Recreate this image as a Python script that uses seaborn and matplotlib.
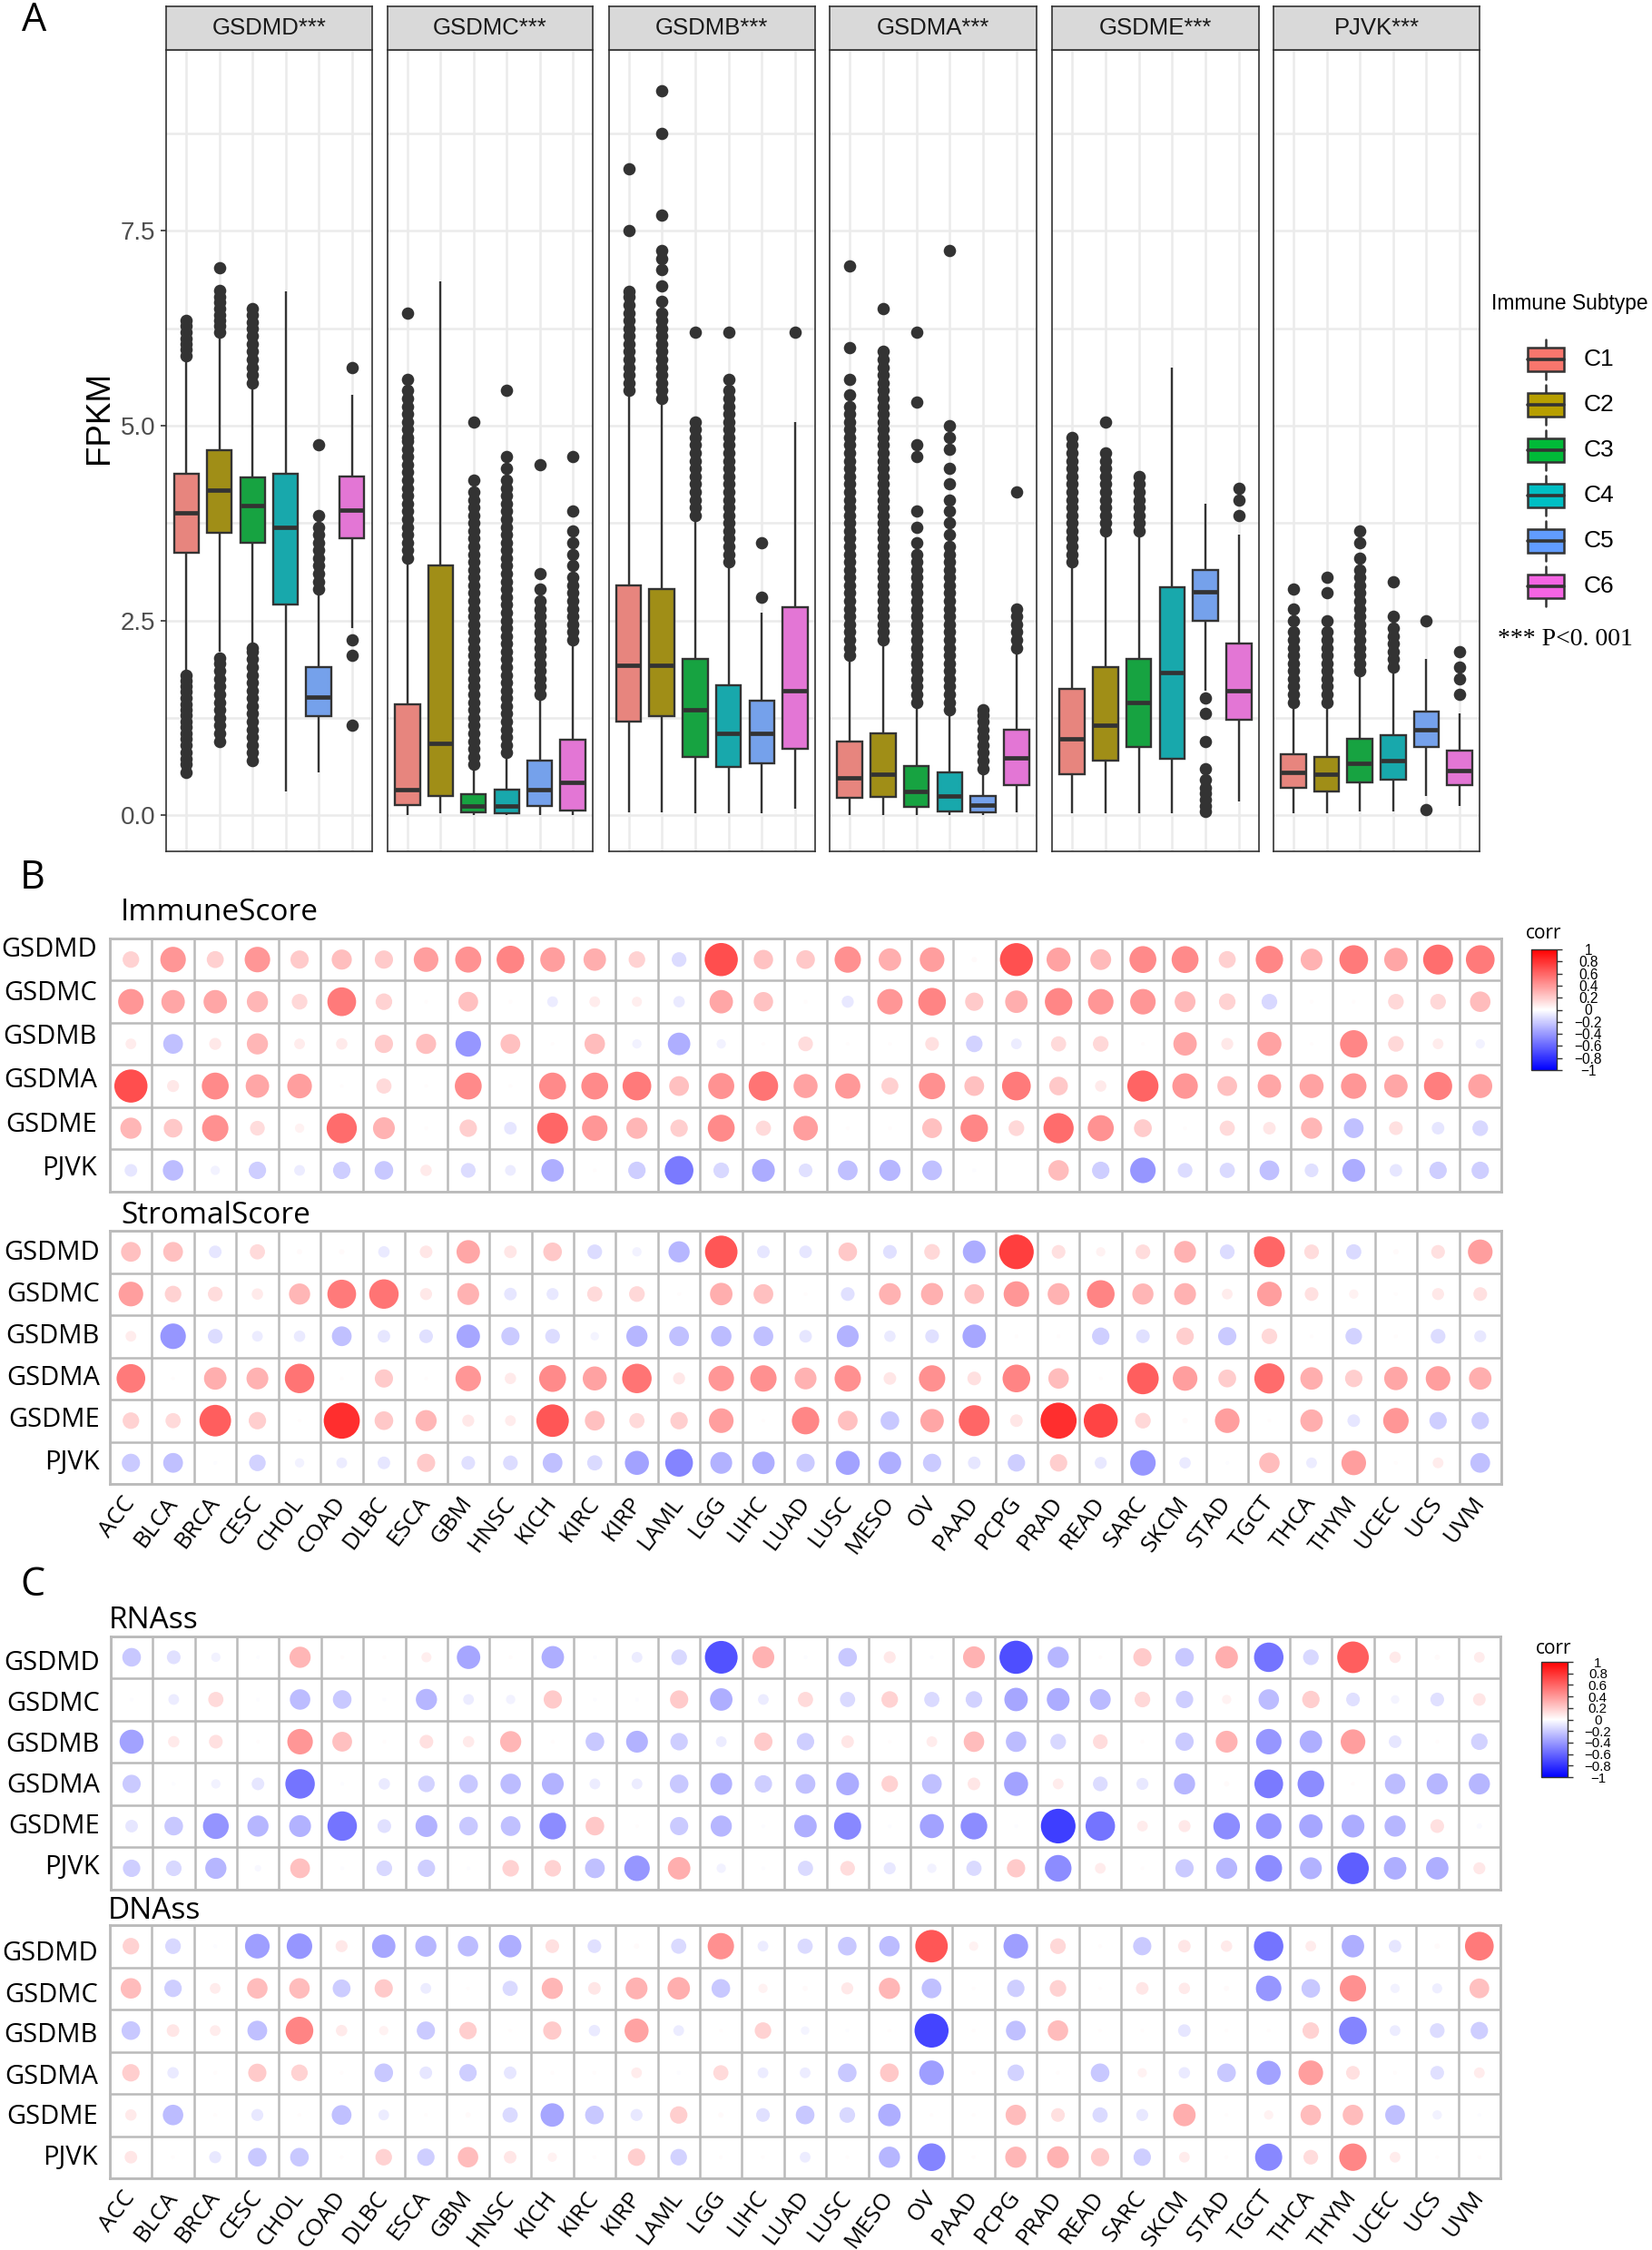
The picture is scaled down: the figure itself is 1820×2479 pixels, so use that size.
import numpy as np
import pandas as pd
import seaborn as sns
import matplotlib.pyplot as plt
from matplotlib.cm import ScalarMappable
from matplotlib.colors import Normalize
from matplotlib.patches import Rectangle

W, H = 1820, 2479

subtypes = ['C1', 'C2', 'C3', 'C4', 'C5', 'C6']
subtype_colors = ['#F8766D', '#B79F00', '#00BA38', '#00BFC4', '#619CFF', '#F564E3']
box_genes = ['GSDMD', 'GSDMC', 'GSDMB', 'GSDMA', 'GSDME', 'PJVK']

# low whisker, q1, median, q3, high whisker for C1..C6
boxes_gsdmd = [[1.85, 3.37, 3.88, 4.38, 5.85], [2.1, 3.62, 4.17, 4.68, 6.15], [2.2, 3.5, 3.97, 4.33, 5.5],
               [0.3, 2.7, 3.7, 4.38, 6.72], [0.55, 1.27, 1.52, 1.9, 2.85], [2.4, 3.55, 3.92, 4.35, 5.4]]
boxes_gsdmc = [[0.0, 0.13, 0.33, 1.42, 3.3], [0.02, 0.25, 0.92, 3.2, 6.85], [0.0, 0.03, 0.12, 0.27, 0.6],
               [0.0, 0.02, 0.12, 0.33, 0.75], [0.0, 0.12, 0.33, 0.7, 1.5], [0.0, 0.06, 0.42, 0.97, 2.2]]
boxes_gsdmb = [[0.03, 1.2, 1.92, 2.95, 5.4], [0.03, 1.27, 1.92, 2.9, 5.3], [0.02, 0.75, 1.35, 2.0, 3.8],
               [0.02, 0.62, 1.05, 1.67, 3.2], [0.02, 0.67, 1.05, 1.47, 2.6], [0.08, 0.85, 1.6, 2.67, 5.05]]
boxes_gsdma = [[0.0, 0.22, 0.48, 0.95, 2.0], [0.0, 0.23, 0.52, 1.05, 2.2], [0.0, 0.1, 0.3, 0.63, 1.4],
               [0.0, 0.05, 0.25, 0.55, 1.3], [0.0, 0.03, 0.13, 0.25, 0.55], [0.03, 0.38, 0.73, 1.1, 2.1]]
boxes_gsdme = [[0.02, 0.52, 0.98, 1.62, 3.2], [0.02, 0.7, 1.15, 1.9, 3.6], [0.02, 0.88, 1.45, 2.0, 3.6],
               [0.02, 0.72, 1.83, 2.92, 5.75], [1.6, 2.5, 2.87, 3.15, 4.0], [0.17, 1.22, 1.6, 2.2, 3.6]]
boxes_pjvk = [[0.02, 0.35, 0.55, 0.78, 1.4], [0.02, 0.3, 0.52, 0.75, 1.4], [0.05, 0.42, 0.67, 0.98, 1.8],
              [0.05, 0.45, 0.7, 1.03, 1.85], [0.25, 0.88, 1.1, 1.33, 2.0], [0.12, 0.38, 0.57, 0.83, 1.3]]

outliers_gsdmd = [
    [0.55, 0.65, 0.72, 0.8, 0.9, 0.98, 1.05, 1.13, 1.2, 1.28, 1.35, 1.42, 1.5, 1.58, 1.65, 1.72, 1.8,
     5.9, 5.98, 6.05, 6.12, 6.2, 6.28, 6.35],
    [0.95, 1.05, 1.15, 1.25, 1.35, 1.45, 1.55, 1.65, 1.75, 1.85, 1.95, 2.02,
     6.2, 6.28, 6.35, 6.42, 6.5, 6.58, 6.65, 6.74, 7.03],
    [0.7, 0.8, 0.9, 1.0, 1.1, 1.2, 1.3, 1.4, 1.5, 1.6, 1.7, 1.8, 1.9, 2.0, 2.1, 2.15,
     5.55, 5.65, 5.75, 5.85, 5.95, 6.05, 6.15, 6.25, 6.33, 6.42, 6.5],
    [],
    [2.9, 3.0, 3.1, 3.2, 3.3, 3.4, 3.5, 3.6, 3.7, 3.85, 4.75],
    [1.15, 2.05, 2.25, 5.75]]
outliers_gsdmc = [
    [3.3, 3.4, 3.5, 3.6, 3.7, 3.8, 3.9, 4.0, 4.1, 4.2, 4.3, 4.4, 4.5, 4.6, 4.7, 4.8, 4.85, 4.95, 5.05, 5.15, 5.25,
     5.35, 5.45, 5.6, 6.45],
    [],
    [0.65, 0.75, 0.85, 0.95, 1.05, 1.15, 1.25, 1.35, 1.45, 1.55, 1.65, 1.75, 1.85, 1.95, 2.05, 2.15, 2.25, 2.35,
     2.45, 2.55, 2.65, 2.75, 2.85, 2.95, 3.05, 3.15, 3.25, 3.35, 3.45, 3.55, 3.65, 3.75, 3.85, 3.95, 4.05, 4.15,
     4.3, 5.05],
    [0.8, 0.9, 1.0, 1.1, 1.2, 1.3, 1.4, 1.5, 1.6, 1.7, 1.8, 1.9, 2.0, 2.1, 2.2, 2.3, 2.4, 2.5, 2.6, 2.7, 2.8, 2.9,
     3.0, 3.1, 3.2, 3.3, 3.4, 3.5, 3.6, 3.7, 3.8, 3.9, 4.0, 4.1, 4.2, 4.3, 4.45, 4.6, 5.45],
    [1.55, 1.65, 1.75, 1.85, 1.95, 2.05, 2.15, 2.25, 2.35, 2.45, 2.55, 2.65, 2.75, 2.9, 3.1, 4.5],
    [2.25, 2.35, 2.45, 2.55, 2.65, 2.75, 2.85, 2.95, 3.05, 3.2, 3.35, 3.5, 3.65, 3.9, 4.6]]
outliers_gsdmb = [
    [5.45, 5.55, 5.65, 5.75, 5.85, 5.95, 6.05, 6.15, 6.25, 6.35, 6.45, 6.55, 6.65, 6.72, 7.5, 8.3],
    [5.35, 5.45, 5.55, 5.65, 5.75, 5.85, 5.95, 6.05, 6.15, 6.25, 6.35, 6.45, 6.6, 6.8, 7.0, 7.15, 7.25, 7.7, 8.75, 9.3],
    [3.85, 3.95, 4.05, 4.15, 4.25, 4.35, 4.45, 4.55, 4.65, 4.75, 4.85, 4.95, 5.05, 6.2],
    [3.25, 3.35, 3.45, 3.55, 3.65, 3.75, 3.85, 3.95, 4.05, 4.15, 4.25, 4.35, 4.45, 4.55, 4.65, 4.75, 4.85, 4.95, 5.05,
     5.15, 5.25, 5.35, 5.45, 5.6, 6.2],
    [2.8, 3.5],
    [6.2]]
outliers_gsdma = [
    [2.05, 2.15, 2.25, 2.35, 2.45, 2.55, 2.65, 2.75, 2.85, 2.95, 3.05, 3.15, 3.25, 3.35, 3.45, 3.55, 3.65, 3.75,
     3.85, 3.95, 4.05, 4.15, 4.25, 4.35, 4.45, 4.55, 4.65, 4.75, 4.85, 4.95, 5.05, 5.15, 5.25, 5.4, 5.6, 6.0, 7.05],
    [2.25, 2.35, 2.45, 2.55, 2.65, 2.75, 2.85, 2.95, 3.05, 3.15, 3.25, 3.35, 3.45, 3.55, 3.65, 3.75, 3.85, 3.95,
     4.05, 4.15, 4.25, 4.35, 4.45, 4.55, 4.65, 4.75, 4.85, 4.95, 5.05, 5.15, 5.25, 5.35, 5.45, 5.55, 5.65, 5.75,
     5.85, 5.95, 6.5],
    [1.45, 1.55, 1.65, 1.75, 1.85, 1.95, 2.05, 2.15, 2.25, 2.35, 2.45, 2.55, 2.65, 2.75, 2.85, 2.95, 3.05, 3.15,
     3.25, 3.35, 3.5, 3.7, 3.9, 4.6, 4.75, 5.3, 6.2],
    [1.35, 1.45, 1.55, 1.65, 1.75, 1.85, 1.95, 2.05, 2.15, 2.25, 2.35, 2.45, 2.55, 2.65, 2.75, 2.85, 2.95, 3.05,
     3.15, 3.25, 3.35, 3.45, 3.6, 3.75, 3.9, 4.05, 4.25, 4.45, 4.7, 4.85, 5.0, 7.25],
    [0.6, 0.7, 0.8, 0.9, 1.0, 1.1, 1.2, 1.28, 1.35],
    [2.15, 2.25, 2.35, 2.45, 2.55, 2.65, 4.15]]
outliers_gsdme = [
    [3.25, 3.35, 3.45, 3.55, 3.65, 3.75, 3.85, 3.95, 4.05, 4.15, 4.25, 4.35, 4.45, 4.55, 4.65, 4.75, 4.85],
    [3.65, 3.75, 3.85, 3.95, 4.05, 4.15, 4.25, 4.35, 4.45, 4.55, 4.65, 5.05],
    [3.65, 3.75, 3.85, 3.95, 4.05, 4.15, 4.25, 4.35],
    [],
    [0.05, 0.12, 0.2, 0.28, 0.35, 0.45, 0.6, 0.95, 1.3, 1.5],
    [3.85, 4.05, 4.2]]
outliers_pjvk = [
    [1.45, 1.55, 1.65, 1.75, 1.85, 1.95, 2.05, 2.15, 2.25, 2.35, 2.5, 2.65, 2.9],
    [1.45, 1.55, 1.65, 1.75, 1.85, 1.95, 2.05, 2.15, 2.25, 2.35, 2.5, 2.85, 3.05],
    [1.85, 1.95, 2.05, 2.15, 2.25, 2.35, 2.45, 2.55, 2.65, 2.75, 2.85, 2.95, 3.05, 3.15, 3.3, 3.5, 3.65],
    [1.9, 2.0, 2.1, 2.2, 2.3, 2.4, 2.55, 3.0],
    [0.07, 2.5],
    [1.55, 1.75, 1.9, 2.1]]

all_boxes = [boxes_gsdmd, boxes_gsdmc, boxes_gsdmb, boxes_gsdma, boxes_gsdme, boxes_pjvk]
all_outliers = [outliers_gsdmd, outliers_gsdmc, outliers_gsdmb, outliers_gsdma, outliers_gsdme, outliers_pjvk]

corr_genes = ['GSDMD', 'GSDMC', 'GSDMB', 'GSDMA', 'GSDME', 'PJVK']
cancers = ['ACC', 'BLCA', 'BRCA', 'CESC', 'CHOL', 'COAD', 'DLBC', 'ESCA', 'GBM', 'HNSC', 'KICH', 'KIRC', 'KIRP',
           'LAML', 'LGG', 'LIHC', 'LUAD', 'LUSC', 'MESO', 'OV', 'PAAD', 'PCPG', 'PRAD', 'READ', 'SARC', 'SKCM',
           'STAD', 'TGCT', 'THCA', 'THYM', 'UCEC', 'UCS', 'UVM']

immune_score = [
    [.19, .45, .2, .45, .23, .28, .23, .42, .47, .53, .42, .35, .19, -.15, .76, .26,
     .24, .48, .35, .42, .02, .75, .4, .3, .5, .5, .2, .52, .33, .57, .38, .62, .57],
    [.45, .38, .38, .31, .17, .57, .19, .01, .27, .01, -.08, .08, .07, -.09, .38, .26,
     .01, -.1, .45, .53, .23, .35, .52, .45, .45, .3, .19, -.17, .01, .01, .17, .17, .29],
    [.08, -.27, .1, .31, .08, .09, .23, .28, -.45, .27, .01, .29, -.06, -.35, -.06, .01,
     .15, .01, .01, .13, -.19, -.08, .16, .17, .01, .38, .1, .4, .01, .52, .17, .08, -.06],
    [.76, .1, .5, .38, .42, .01, .16, .01, .5, .01, .5, .5, .57, .27, .47, .6,
     .4, .44, .2, .48, .27, .57, .24, .09, .67, .45, .27, .38, .4, .45, .38, .55, .4],
    [.31, .24, .48, .15, .06, .63, .33, .01, .21, -.11, .66, .45, .31, .21, .5, .16,
     .42, .01, .01, .27, .52, .17, .63, .47, .22, .01, .16, .11, .31, -.27, .13, -.11, -.17],
    [-.11, -.29, -.06, -.21, -.08, -.21, -.24, .09, -.15, -.08, -.35, .01, -.21, -.57, -.17, -.36,
     -.13, -.27, -.31, -.27, -.01, 0, .29, -.21, -.45, -.15, -.16, -.27, -.13, -.36, -.11, -.21, -.21]]
stromal_score = [
    [.27, .27, -.11, .16, .02, .02, -.09, .11, .38, .11, .24, -.15, -.06, -.31, .73, -.11,
     -.11, .24, -.13, .17, -.36, .83, .13, .06, .15, .33, -.15, .66, .15, -.16, .02, .13, .42],
    [.42, .19, .15, .09, .31, .57, .6, .1, .33, -.11, -.1, .16, .17, .01, .35, .27,
     .01, -.13, .33, .34, .27, .45, .33, .53, .31, .33, .08, .42, .13, .06, .01, .1, .13],
    [.08, -.45, -.15, -.08, -.09, -.27, -.11, -.13, -.38, -.23, -.15, -.05, -.31, -.27, -.29, -.27,
     -.11, -.33, -.09, -.13, -.38, .01, .01, -.21, -.13, .21, -.23, .17, .01, -.19, .01, -.15, -.1],
    [.57, .01, .35, .33, .6, .01, .23, .01, .45, .09, .5, .4, .6, .1, .45, .48,
     .33, .48, .11, .48, .13, .53, .29, .01, .69, .42, .22, .63, .35, .21, .38, .42, .35],
    [.19, .16, .69, .21, .01, .9, .24, .31, .1, .08, .73, .27, .16, .21, .42, .01,
     .52, .27, -.24, .38, .66, .11, .9, .8, .17, .02, .42, .01, .35, -.11, .45, -.21, -.21],
    [-.23, -.27, -.01, -.19, -.06, -.08, -.11, .23, -.13, -.15, -.27, -.16, -.4, -.53, -.33, -.35,
     -.23, -.4, -.35, -.23, -.11, -.21, .21, -.1, -.45, -.09, -.01, .29, -.08, .42, .01, .08, -.27]]
rnass = [
    [-.24, -.13, -.06, -.01, .31, .01, .01, .07, -.38, .01, -.35, -.01, -.08, -.17, -.74, .33,
     -.01, -.24, .1, -.01, .33, -.76, -.31, .01, .23, -.24, .35, -.6, -.17, .69, .09, .02, .08],
    [-.01, -.08, .16, -.01, -.29, -.24, -.01, -.31, -.08, -.06, .23, -.01, -.01, .23, -.35, -.08,
     .16, -.16, .19, -.16, -.19, -.38, -.36, -.3, .17, -.21, .06, -.29, .21, -.13, -.05, -.13, .11],
    [-.4, .09, .13, .01, .45, .27, .01, .13, .09, .31, .01, -.24, -.33, -.21, -.08, .23,
     -.21, .11, .01, .08, .29, -.29, -.17, .15, .01, -.23, .33, -.45, -.35, .42, -.11, .01, -.19],
    [-.23, -.01, -.06, -.11, -.6, -.01, -.09, -.19, -.24, -.29, -.33, -.08, -.08, -.24, -.33, -.21,
     -.27, -.36, .19, -.27, .11, -.4, .08, -.15, -.1, -.31, .02, -.57, -.49, .01, -.29, -.31, -.31],
    [-.11, -.24, -.46, -.31, -.33, -.6, -.13, -.33, -.24, -.27, -.49, .24, .01, -.23, -.31, -.01,
     -.35, -.51, -.01, -.4, -.49, -.01, -.83, -.6, .08, .1, -.49, -.45, -.38, -.36, -.31, .13, -.02],
    [-.21, -.17, -.31, -.03, .27, -.01, -.17, -.21, -.01, .19, .19, -.27, -.45, .35, -.06, -.01,
     -.16, .15, -.1, -.06, -.16, .23, -.49, .08, .01, -.23, -.31, -.49, -.33, -.69, -.35, -.35, .1]]
dnass = [
    [.19, -.17, -.01, -.42, -.45, .1, -.38, -.31, -.29, -.35, .13, -.13, .02, -.16, .48, -.08,
     -.16, -.24, -.29, .73, .06, -.42, .17, .01, -.23, .11, .09, -.6, .08, -.35, -.11, .02, .57],
    [.29, -.21, .08, .29, .29, -.22, .23, -.08, .01, -.16, .31, .11, .33, .35, -.24, .06,
     .02, .1, .31, -.27, .01, -.21, .19, .01, .11, .09, .02, -.45, -.24, .48, -.06, -.07, .27],
    [-.24, .11, .08, -.27, .53, .09, .06, -.23, .21, .01, .23, -.09, .4, -.08, .01, .19,
     -.05, -.01, .01, -.8, .01, -.27, .29, .01, .01, -.11, .01, .01, .19, -.53, -.08, -.15, -.21],
    [.21, -.09, .01, .23, .19, .01, -.24, -.11, -.21, -.11, .01, .01, .08, -.01, .16, -.08,
     -.08, -.24, .24, -.42, .01, -.19, .01, -.24, .06, -.09, -.24, -.4, .42, .13, .01, -.13, .08],
    [.09, -.29, .01, -.1, .01, -.27, -.08, .01, .02, -.16, -.38, -.24, -.1, .21, .02, -.13,
     -.24, -.17, -.35, .01, .01, .29, .13, -.16, -.1, .35, .01, .06, .29, .29, -.27, -.06, -.01],
    [.11, .01, -.1, -.24, -.24, .01, .19, -.21, .29, .11, .06, .01, .21, -.19, .01, .01,
     -.08, .01, -.31, -.53, .01, .31, .33, .23, -.21, .08, .01, -.51, .15, .52, .08, .01, .01]]

cbar_ticks = [1, 0.8, 0.6, 0.4, 0.2, 0, -0.2, -0.4, -0.6, -0.8, -1]
cbar_labels = ['1', '0.8', '0.6', '0.4', '0.2', '0', '\u22120.2', '\u22120.4', '\u22120.6', '\u22120.8', '\u22121']

sns.set_theme(style='white')
plt.rcParams['font.family'] = ['Liberation Sans', 'DejaVu Sans']

fig = plt.figure(figsize=(W / 100, H / 100), dpi=100, facecolor='white')


def px_axes(left, top, right, bottom):
    return fig.add_axes([left / W, 1 - bottom / H, (right - left) / W, (bottom - top) / H])


def px_text(x, y, s, **kw):
    kw.setdefault('va', 'center')
    fig.text(x / W, 1 - y / H, s, **kw)


def draw_box_panel(i, left, right):
    ax = px_axes(left, 55, right, 938)
    rows = [(sub, v) for sub, stats in zip(subtypes, all_boxes[i]) for v in stats]
    df = pd.DataFrame(rows, columns=['subtype', 'FPKM'])
    sns.boxplot(data=df, x='subtype', y='FPKM', hue='subtype', order=subtypes, hue_order=subtypes,
                palette=subtype_colors, whis=(0, 100), width=0.75, fliersize=0, showcaps=False,
                linecolor='#333333', linewidth=1.7, medianprops={'linewidth': 3.4}, legend=False, ax=ax)
    rows = [(sub, v) for sub, vals in zip(subtypes, all_outliers[i]) for v in vals]
    out = pd.DataFrame(rows, columns=['subtype', 'FPKM'])
    sns.stripplot(data=out, x='subtype', y='FPKM', order=subtypes, jitter=False, color='#333333',
                  size=9.8, linewidth=0, ax=ax)
    ax.set_xlim(-0.6, 5.6)
    ax.set_ylim(-0.466, 9.825)
    ax.set_yticks([0, 2.5, 5, 7.5])
    ax.set_yticks([1.25, 3.75, 6.25, 8.75], minor=True)
    ax.set_axisbelow(True)
    ax.grid(True, which='both', color='#EBEBEB', linewidth=1.8)
    ax.set_xlabel('')
    ax.set_ylabel('')
    ax.tick_params(axis='x', length=0, labelbottom=False)
    ax.tick_params(axis='y', which='minor', length=0)
    if i == 0:
        ax.tick_params(axis='y', which='major', length=4.5, width=1.2, color='#333333', left=True,
                       labelsize=20, labelcolor='#4D4D4D', pad=4)
        ax.set_yticklabels(['0.0', '2.5', '5.0', '7.5'])
    else:
        ax.tick_params(axis='y', which='major', length=0, labelleft=False)
    for s in ax.spines.values():
        s.set_visible(True)
        s.set_color('#333333')
        s.set_linewidth(1.2)

    strip = px_axes(left, 7, right, 55)
    strip.set_facecolor('#D9D9D9')
    strip.set_xticks([])
    strip.set_yticks([])
    for s in strip.spines.values():
        s.set_visible(True)
        s.set_color('#333333')
        s.set_linewidth(1.2)
    strip.text(0.5, 0.5, box_genes[i] + '***', ha='center', va='center', fontsize=18.5, color='#1A1A1A',
               transform=strip.transAxes)


panel_lefts = [183.4, 427, 670.5, 914, 1159, 1403]
panel_rights = [409.5, 653, 898, 1142, 1387, 1630]
for n in range(6):
    draw_box_panel(n, panel_lefts[n], panel_rights[n])

px_text(109, 460, 'FPKM', rotation=90, ha='center', fontsize=26.5, color='black')

# legend keys of panel A
px_text(1643, 334, 'Immune Subtype', ha='left', fontsize=16.4, color='black')
for n, (sub, col) in enumerate(zip(subtypes, subtype_colors)):
    yc = 396 + n * 50
    fig.add_artist(plt.Line2D([1703 / W, 1703 / W], [1 - (yc - 22) / H, 1 - (yc + 22) / H],
                              color='#333333', lw=1.8, transform=fig.transFigure, zorder=2))
    fig.add_artist(Rectangle((1683 / W, 1 - (yc + 13) / H), 40 / W, 26 / H, facecolor=col, edgecolor='#333333',
                             lw=1.8, transform=fig.transFigure, zorder=3))
    fig.add_artist(plt.Line2D([1683 / W, 1723 / W], [1 - yc / H, 1 - yc / H], color='#333333', lw=2.6,
                              transform=fig.transFigure, zorder=4))
    px_text(1745, yc, sub, ha='left', fontsize=19, color='black')
px_text(1650, 705, '*** P<0. 001', ha='left', fontsize=20, family=['Liberation Serif'], color='black')

px_text(24, 23, 'A', ha='left', fontsize=31, family=['Open Sans'], color='black')
px_text(22, 968, 'B', ha='left', fontsize=31, family=['Open Sans'], color='black')
px_text(22, 1747, 'C', ha='left', fontsize=31, family=['Open Sans'], color='black')


def draw_corr_panel(matrix, left, top, right, bottom, title, title_x, title_y, label_y0, label_step, label_x, xlabels):
    assert len(matrix) == 6 and all(len(r) == 33 for r in matrix)
    ax = px_axes(left, top, right, bottom)
    rows = [(c, g, v, abs(v)) for g, vals in enumerate(matrix) for c, v in enumerate(vals)]
    df = pd.DataFrame(rows, columns=['cancer', 'gene', 'corr', 'size'])
    sns.scatterplot(data=df, x='cancer', y='gene', hue='corr', size='size', palette='bwr', hue_norm=(-1.1, 1.1),
                    sizes=(0, 910), size_norm=(0, 1), linewidth=0, legend=False, ax=ax, zorder=3)
    ax.set_xlim(-0.5, 32.5)
    ax.set_ylim(5.5, -0.5)
    ax.set_xlabel('')
    ax.set_ylabel('')
    ax.set_yticks([])
    ax.set_xticks(np.arange(-0.5, 33), minor=True)
    ax.set_yticks(np.arange(-0.5, 6), minor=True)
    ax.set_axisbelow(True)
    ax.grid(True, which='minor', color='#BABABA', linewidth=1.8)
    ax.grid(False, which='major')
    ax.tick_params(which='minor', length=0)
    for s in ax.spines.values():
        s.set_visible(True)
        s.set_color('#BABABA')
        s.set_linewidth(2)
    if xlabels:
        ax.set_xticks(range(33))
        ax.set_xticklabels(cancers, rotation=53, ha='right', va='center', rotation_mode='anchor',
                           fontsize=18.5, family=['Open Sans'], color='black')
        ax.tick_params(axis='x', which='major', length=0, pad=12, bottom=True)
    else:
        ax.set_xticks([])
    px_text(title_x, title_y, title, ha='left', fontsize=24, family=['Open Sans'], color='black')
    for g, gene in enumerate(corr_genes):
        px_text(label_x, label_y0 + g * label_step, gene, ha='right', fontsize=21, family=['Open Sans'], color='black')


draw_corr_panel(immune_score, 121, 1034, 1654, 1312.7, 'ImmuneScore', 133, 1006, 1046, 48.3, 107, False)
draw_corr_panel(stromal_score, 121, 1356, 1654, 1635, 'StromalScore', 133, 1339, 1381, 46, 110, True)
draw_corr_panel(rnass, 121.8, 1802.7, 1653, 2081.7, 'RNAss', 120, 1785, 1832, 45.2, 110, False)
draw_corr_panel(dnass, 121, 2121, 1653, 2400, 'DNAss', 119, 2106, 2153, 45, 108, True)


def draw_cbar(left, top, right, bottom, title_x, title_y, pad, size):
    cax = px_axes(left, top, right, bottom)
    sm = ScalarMappable(norm=Normalize(-1, 1), cmap='bwr')
    cb = fig.colorbar(sm, cax=cax, ticks=cbar_ticks)
    cb.ax.set_yticklabels(cbar_labels, ha='center', fontsize=size, color='black')
    cb.ax.tick_params(length=4, width=1, color='#333333', right=True, pad=pad, labelcolor='black')
    cb.outline.set_edgecolor('#333333')
    cb.outline.set_linewidth(1)
    cb.ax.set_zorder(5)
    px_text(title_x, title_y, 'corr', ha='center', fontsize=15, family=['Open Sans'], color='black')


draw_cbar(1687, 1046, 1715, 1179, 1701, 1029, 21, 11.2)
draw_cbar(1698, 1831, 1727, 1958, 1712, 1817, 20, 10.8)

fig.savefig('out.png', dpi=100)
